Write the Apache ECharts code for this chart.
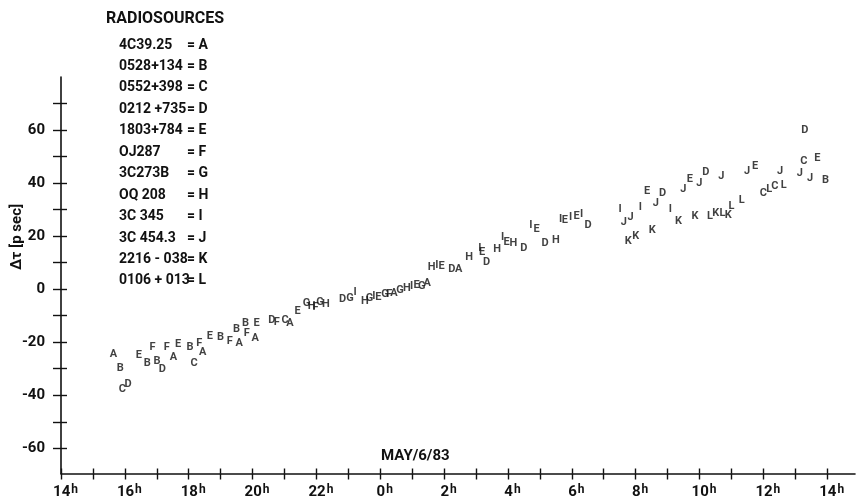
<!DOCTYPE html>
<html>
<head>
<meta charset="utf-8">
<script src="https://cdn.jsdelivr.net/npm/echarts@6/dist/echarts.min.js"></script>
<style>
html, body { margin: 0; padding: 0; background: #fff; }
#chart { width: 866px; height: 504px; }
</style>
</head>
<body>
<div id="chart"></div>
<script>
// hours counted from May 6, 14h (38 = 14h next day)
var xTicks = [14, 15, 16, 17, 18, 19, 20, 21, 22, 23, 24, 25, 26, 27, 28, 29, 30, 31, 32, 33, 34, 35, 36, 37, 38];
var xLabels = [14, 16, 18, 20, 22, 24, 26, 28, 30, 32, 34, 36, 38];
var yTicks = [-60, -50, -40, -30, -20, -10, 0, 10, 20, 30, 40, 50, 60, 70];
var yLabels = [-60, -40, -20, 0, 20, 40, 60];

var letters = ['A', 'B', 'C', 'D', 'E', 'F', 'G', 'H', 'I', 'J', 'K', 'L'];
var sourceNames = ['4C39.25', '0528+134', '0552+398', '0212 +735', '1803+784', 'OJ287',
	'3C273B', 'OQ 208', '3C 345', '3C 454.3', '2216 - 038', '0106 + 013'];

// [hour, delay in p sec]
var ptsA = [[15.64, -24.6], [17.52, -25.5], [18.44, -23.6], [19.58, -20.5], [20.08, -18.6],
	[21.17, -12.9], [24.43, -1.5], [25.47, 2.3], [26.46, 7.5]];
var ptsB = [[15.86, -29.9], [16.70, -28.0], [17.01, -27.0], [18.04, -22.0], [19.00, -18.2],
	[19.50, -15.2], [19.78, -12.9], [37.95, 41.1]];
var ptsC = [[15.92, -37.7], [18.17, -28.0], [21.02, -11.7], [36.00, 36.3], [36.36, 38.8], [37.27, 48.3]];
var ptsD = [[16.10, -35.8], [17.17, -30.1], [20.60, -11.7], [22.82, -3.9], [26.24, 7.5], [27.33, 10.3],
	[28.50, 15.3], [29.16, 17.4], [30.51, 24.1], [32.84, 36.3], [34.20, 44.2], [37.30, 60.1]];
var ptsE = [[16.44, -24.9], [17.67, -20.7], [18.66, -17.7], [20.13, -12.9], [21.41, -8.5], [23.94, -3.0],
	[25.14, 1.5], [25.92, 8.7], [27.19, 14.1], [27.96, 17.8], [28.90, 22.5], [29.78, 26.0], [30.15, 27.5],
	[32.36, 37.0], [33.70, 41.3], [35.74, 46.3], [37.69, 49.2]];
var ptsF = [[16.87, -22.0], [17.31, -22.0], [18.33, -20.5], [19.29, -19.5], [19.82, -16.7],
	[20.76, -12.3], [21.97, -7.0], [24.28, -1.9]];
var ptsG = [[21.69, -5.4], [22.11, -4.8], [23.05, -3.5], [23.66, -3.4], [24.15, -1.9], [24.62, -0.4], [25.30, 1.1]];
var ptsH = [[21.85, -6.3], [22.30, -5.6], [23.52, -4.5], [24.83, 0.4], [25.61, 8.1], [26.78, 12.2],
	[27.66, 15.1], [28.17, 17.2], [29.50, 18.5]];
var ptsI = [[23.21, -1.0], [23.80, -2.6], [24.98, 1.1], [25.77, 9.0], [27.12, 15.3], [27.83, 19.5],
	[28.72, 24.1], [29.65, 26.2], [29.96, 27.2], [30.31, 28.1], [31.51, 30.0], [32.15, 30.8], [33.09, 30.0]];
var ptsJ = [[31.63, 25.3], [31.84, 27.0], [32.63, 32.5], [33.49, 37.6], [33.99, 39.8], [34.68, 42.6],
	[35.49, 44.6], [36.52, 44.6], [37.14, 43.6], [37.46, 41.7]];
var ptsK = [[31.77, 18.2], [32.00, 20.0], [32.52, 22.2], [33.34, 25.6], [33.86, 27.5], [34.51, 28.5], [34.90, 27.9]];
var ptsL = [[34.33, 27.5], [34.72, 28.7], [35.00, 31.3], [35.32, 33.5], [36.18, 37.6], [36.64, 39.2]];

var allPts = [ptsA, ptsB, ptsC, ptsD, ptsE, ptsF, ptsG, ptsH, ptsI, ptsJ, ptsK, ptsL];

var FONT = 'Roboto';
var chart = echarts.init(document.getElementById('chart'));

// the key in the upper left corner
var keyItems = [{
	type : 'text', left : 106, top : 11,
	style : { text : 'RADIOSOURCES', font : 'bold 16px ' + FONT, fill : '#111' }
}];
for (var i = 0; i < sourceNames.length; i++) {
	var yy = 45 + i * 21.45;
	keyItems.push({
		type : 'text', x : 119, y : yy,
		style : { text : sourceNames[i], font : 'bold 14px ' + FONT, fill : '#111', textVerticalAlign : 'middle' }
	});
	keyItems.push({
		type : 'text', x : 187, y : yy,
		style : { text : '= ' + letters[i], font : 'bold 14px ' + FONT, fill : '#111', textVerticalAlign : 'middle' }
	});
}
keyItems.push({
	type : 'text', x : 17, y : 237, rotation : Math.PI / 2,
	style : { text : 'Δτ [p sec]', font : 'bold 15px ' + FONT, fill : '#111', textAlign : 'center', textVerticalAlign : 'middle' }
});
keyItems.push({
	type : 'text', x : 381, y : 456,
	style : { text : 'MAY/6/83', font : 'bold 15px ' + FONT, fill : '#111', textVerticalAlign : 'middle' }
});

var series = [];
for (var s = 0; s < allPts.length; s++) {
	series.push({
		name : letters[s],
		type : 'scatter',
		symbolSize : 1,
		itemStyle : { color : 'rgba(0,0,0,0)' },
		label : {
			show : true,
			position : 'inside',
			formatter : letters[s],
			color : '#111',
			fontFamily : FONT,
			fontWeight : 'bold',
			fontSize : 11
		},
		data : allPts[s]
	});
}

var option = {
	animation : false,
	backgroundColor : '#fff',
	grid : { left : 61, right : 11, top : 77, bottom : 30.5 },
	xAxis : [ {
		type : 'value', min : 14, max : 38.87, position : 'bottom',
		splitLine : { show : false },
		axisLine : { onZero : false, lineStyle : { color : '#111', width : 1.6 } },
		axisTick : { customValues : xTicks, length : 6, lineStyle : { color : '#111', width : 1.4 } },
		axisLabel : {
			customValues : xLabels,
			margin : 10,
			padding : [0, 0, 0, 9],
			formatter : function(v) { return '{n|' + (v % 24) + '}{s|h}'; },
			rich : {
				n : { fontFamily : FONT, fontWeight : 'bold', fontSize : 15, color : '#111', lineHeight : 18 },
				s : { fontFamily : FONT, fontWeight : 'bold', fontSize : 12, color : '#111', verticalAlign : 'top', lineHeight : 18, padding : [0, 0, 0, 1] }
			}
		}
	}, {
		type : 'value', min : 14, max : 38.87, position : 'bottom',
		splitLine : { show : false },
		axisLine : { show : false, onZero : false },
		axisTick : { customValues : xTicks, inside : true, length : 5, lineStyle : { color : '#111', width : 1.4 } },
		axisLabel : { show : false }
	} ],
	yAxis : [ {
		type : 'value', min : -69.5, max : 80, position : 'left',
		splitLine : { show : false },
		axisLine : { onZero : false, lineStyle : { color : '#111', width : 1.6 } },
		axisTick : { customValues : yTicks, length : 8, lineStyle : { color : '#111', width : 1.4 } },
		axisLabel : {
			customValues : yLabels,
			margin : 16,
			fontFamily : FONT, fontWeight : 'bold', fontSize : 15, color : '#111'
		}
	}, {
		type : 'value', min : -69.5, max : 80, position : 'left',
		splitLine : { show : false },
		axisLine : { show : false, onZero : false },
		axisTick : { customValues : yTicks, inside : true, length : 6, lineStyle : { color : '#111', width : 1.4 } },
		axisLabel : { show : false }
	} ],
	graphic : keyItems,
	series : series
};
chart.setOption(option);
</script>
</body>
</html>
